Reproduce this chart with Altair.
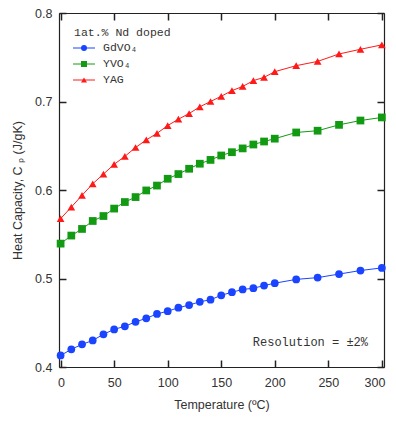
import altair as alt
import pandas as pd

temps = [0, 10, 20, 30, 40, 50, 60, 70, 80, 90, 100, 110, 120, 130, 140, 150,
         160, 170, 180, 190, 200, 220, 240, 260, 280, 300]
gdvo4 = [0.413, 0.420, 0.4256, 0.430, 0.437, 0.4425, 0.446, 0.451, 0.455, 0.460,
         0.463, 0.467, 0.470, 0.4737, 0.476, 0.481, 0.4845, 0.4876, 0.489, 0.492,
         0.4947, 0.499, 0.501, 0.505, 0.509, 0.512]
yvo4 = [0.5394, 0.5485, 0.556, 0.565, 0.5706, 0.579, 0.5864, 0.592, 0.5995, 0.605,
        0.6127, 0.618, 0.624, 0.6297, 0.634, 0.639, 0.6427, 0.647, 0.6514, 0.6548,
        0.658, 0.665, 0.667, 0.6736, 0.6785, 0.682]
yag = [0.5676, 0.5807, 0.594, 0.607, 0.618, 0.629, 0.638, 0.648, 0.6566, 0.664,
       0.6728, 0.680, 0.6864, 0.694, 0.700, 0.7059, 0.7123, 0.717, 0.7236, 0.7273,
       0.7337, 0.7405, 0.7453, 0.7537, 0.759, 0.764]

series = ["GdVO₄", "YVO₄", "YAG"]
colors = ["#1a44ff", "#139a13", "#ff1a1a"]
shapes = ["circle", "square", "triangle-up"]
x_ticks = [0, 50, 100, 150, 200, 250, 300]
y_ticks = [0.4, 0.5, 0.6, 0.7, 0.8]
legend_title = "1at.% Nd doped"
note = "Resolution = ±2%"

rows = []
for name, vals in zip(series, [gdvo4, yvo4, yag]):
    for t, v in zip(temps, vals):
        rows.append({"T": t, "Cp": v, "Material": name})
df = pd.DataFrame(rows)
one = pd.DataFrame({"k": [0]})

xs = alt.Scale(domain=[-1.5, 302], nice=False, zero=False)
ys = alt.Scale(domain=[0.4, 0.8], nice=False, zero=False)
cscale = alt.Scale(domain=series, range=colors)
sscale = alt.Scale(domain=series, range=shapes)

inward = {"expr": "-7"}
tick_style = dict(grid=False, domainColor="#222", domainWidth=1.2, tickColor="#222",
                  tickWidth=1.5)
label_style = dict(labelFont="Liberation Sans", labelFontSize=12.5, labelColor="#333",
                   titleFont="Liberation Sans", titleFontSize=12.5,
                   titleFontWeight="normal", titleColor="#333")

x_bottom = alt.Axis(values=x_ticks, tickSize=inward, labelPadding=16,
                    labelFlush=6, labelFlushOffset=3,
                    title="Temperature (ºC)", titlePadding=10, **tick_style, **label_style)
y_left = alt.Axis(values=y_ticks, tickSize=inward, format=".1f", labelPadding=14,
                  title="Heat Capacity, C ₚ (J/gK)", titlePadding=10, **tick_style, **label_style)
x_top = alt.Axis(orient="top", values=x_ticks, tickSize=inward, labels=False,
                 title=None, **tick_style)
y_right = alt.Axis(orient="right", values=y_ticks, tickSize=inward, labels=False,
                   title=None, **tick_style)

base = alt.Chart(df)

lines = base.mark_line(strokeWidth=1).encode(
    x=alt.X("T:Q", scale=xs, axis=x_bottom),
    y=alt.Y("Cp:Q", scale=ys, axis=y_left),
    color=alt.Color("Material:N", scale=cscale, legend=None),
    detail="Material:N",
)
points = base.mark_point(filled=True, opacity=1, size=60).encode(
    x=alt.X("T:Q", scale=xs, axis=x_top),
    y=alt.Y("Cp:Q", scale=ys, axis=y_right),
    color=alt.Color("Material:N", scale=cscale, legend=None),
    shape=alt.Shape("Material:N", scale=sscale, legend=None),
)

layers = [lines, points]

txt = dict(font="Liberation Mono", fontWeight="normal", color="#333", baseline="middle")

# manual legend (pixel positions in plot area)
layers.append(alt.Chart(one).mark_text(align="left", fontSize=11.5, **txt).encode(
    x=alt.value(15), y=alt.value(20), text=alt.value(legend_title)))
leg_y = [35, 51, 67]
for name, col, shp, yy in zip(series, colors, shapes, leg_y):
    layers.append(alt.Chart(one).mark_rule(color=col, strokeWidth=1).encode(
        x=alt.value(14), x2=alt.value(36), y=alt.value(yy)))
    layers.append(alt.Chart(one).mark_point(filled=True, opacity=1, size=36, color=col,
                                            shape=shp).encode(
        x=alt.value(25), y=alt.value(yy)))
    layers.append(alt.Chart(one).mark_text(align="left", fontSize=11.5, **txt).encode(
        x=alt.value(44), y=alt.value(yy), text=alt.value(name)))

layers.append(alt.Chart(one).mark_text(align="right", fontSize=12, **txt).encode(
    x=alt.value(309), y=alt.value(329), text=alt.value(note)))

chart = alt.layer(*layers).resolve_axis(x="independent", y="independent").properties(
    width=325, height=354,
    autosize=alt.AutoSizeParams(type="none"),
    padding={"left": 51, "top": 5, "right": 4, "bottom": 46},
).configure_view(stroke=None)

chart.save("out.html", embed_options={"renderer": "svg", "actions": False})
